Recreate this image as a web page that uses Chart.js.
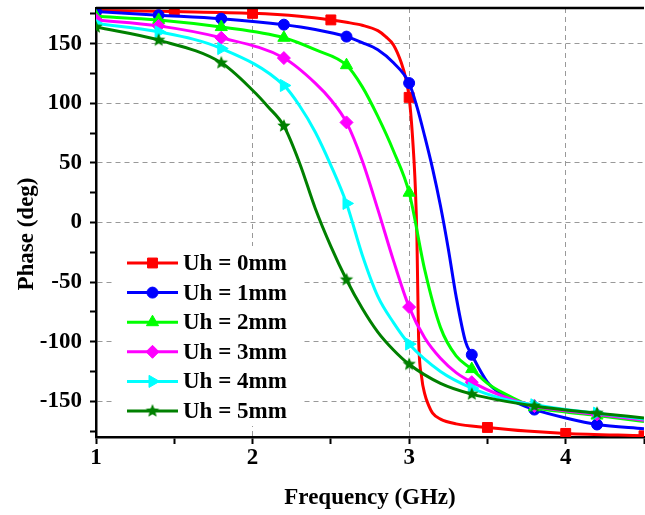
<!DOCTYPE html>
<html>
<head>
<meta charset="utf-8">
<script src="https://cdn.jsdelivr.net/npm/chart.js@4/dist/chart.umd.min.js"></script>
<style>
    html, body { margin: 0; padding: 0; background: #fff; overflow: hidden; }
</style>
</head>
<body>
<canvas id="phaseChart" width="652" height="515"></canvas>
<script>
// frequency (GHz) and phase (deg) per curve
const labels = ['Uh = 0mm', 'Uh = 1mm', 'Uh = 2mm', 'Uh = 3mm', 'Uh = 4mm', 'Uh = 5mm'];

const freq0 = [1.0, 1.5, 2.0, 2.3, 2.5, 2.6, 2.7, 2.8, 2.85, 2.9, 2.95, 2.98, 3.0, 3.02, 3.04, 3.05, 3.06, 3.08, 3.1, 3.12, 3.15, 3.2, 3.3, 3.5, 3.75, 4.0, 4.5];
const phase0 = [178, 177, 175.5, 173, 170, 168, 165.5, 161, 156, 149, 134, 120, 105, 75, 28, -15, -95, -130, -144, -152, -160, -165, -169, -172, -175, -177, -179];

const freq1 = [1.0, 1.4, 1.8, 2.2, 2.4, 2.6, 2.7, 2.8, 2.9, 3.0, 3.05, 3.1, 3.15, 3.2, 3.25, 3.3, 3.36, 3.4, 3.5, 3.6, 3.7, 3.8, 4.0, 4.2, 4.5];
const phase1 = [177, 174, 171, 166, 162, 156, 151, 145, 134, 117, 97, 72, 45, 14, -22, -62, -100, -111, -134, -145, -152, -157, -164, -169.5, -173];

const freq2 = [1.0, 1.4, 1.8, 2.2, 2.4, 2.6, 2.7, 2.8, 2.9, 3.0, 3.1, 3.2, 3.3, 3.4, 3.5, 3.6, 3.8, 4.0, 4.2, 4.5];
const phase2 = [173, 170, 164, 155, 145, 132, 114, 89, 60, 25, -40, -88, -112, -123, -135, -143, -155, -159, -162, -167];

const freq3 = [1.0, 1.4, 1.8, 2.2, 2.4, 2.5, 2.6, 2.7, 2.8, 2.9, 3.0, 3.1, 3.2, 3.3, 3.4, 3.6, 3.8, 4.0, 4.2, 4.5];
const phase3 = [170, 165, 155, 138, 117, 103, 84, 52, 11, -32, -71, -97, -114, -126, -134, -146, -154, -158, -161, -166];

const freq4 = [1.0, 1.4, 1.8, 2.2, 2.3, 2.4, 2.5, 2.6, 2.7, 2.8, 2.9, 3.0, 3.2, 3.4, 3.6, 3.8, 4.0, 4.2, 4.5];
const phase4 = [167, 160, 146, 115, 98, 76, 48, 16, -27, -62, -84, -102, -125, -139, -148, -153, -157, -160, -165];

const freq5 = [1.0, 1.4, 1.8, 2.0, 2.1, 2.2, 2.3, 2.4, 2.5, 2.6, 2.7, 2.8, 2.9, 3.0, 3.2, 3.4, 3.8, 4.2, 4.5];
const phase5 = [164, 153, 134, 111, 97, 81, 50, 12, -20, -48, -72, -92, -107, -119, -135, -144, -154, -160, -164];

// frequencies where a symbol is drawn
const markers0 = [1.0, 1.5, 2.0, 2.5, 3.0, 3.5, 4.0, 4.5];
const markersN = [1.0, 1.4, 1.8, 2.2, 2.6, 3.0, 3.4, 3.8, 4.2];

const xTicks = [1, 1.5, 2, 2.5, 3, 3.5, 4, 4.5];
const yTicks = [-175, -150, -125, -100, -75, -50, -25, 0, 25, 50, 75, 100, 125, 150, 175];

const colors = ['#ff0000', '#0000ff', '#00ff00', '#ff00ff', '#00ffff', '#008000'];
const font = 'Liberation Serif';

function starImage(color, r) {
    const c = document.createElement('canvas');
    const s = Math.ceil(r * 2) + 2;
    c.width = c.height = s;
    const g = c.getContext('2d');
    g.fillStyle = color;
    g.beginPath();
    for (let i = 0; i < 10; i++) {
        const a = -Math.PI / 2 + i * Math.PI / 5;
        const rr = i % 2 ? r * 0.45 : r;
        g.lineTo(s / 2 + rr * Math.cos(a), s / 2 + rr * Math.sin(a));
    }
    g.closePath();
    g.fill();
    return c;
}

const symbols = [
    { style: 'rect', rotation: 0, radius: 7 },
    { style: 'circle', rotation: 0, radius: 5.5 },
    { style: 'triangle', rotation: 0, radius: 7 },
    { style: 'rectRot', rotation: 0, radius: 6.5 },
    { style: 'triangle', rotation: 90, radius: 7 },
    { style: starImage(colors[5], 7), rotation: 0, radius: 7 }
];

const series = [
    [freq0, phase0, markers0],
    [freq1, phase1, markersN],
    [freq2, phase2, markersN],
    [freq3, phase3, markersN],
    [freq4, phase4, markersN],
    [freq5, phase5, markersN]
];

const datasets = series.map((s, i) => {
    const marks = s[2];
    return {
        label: labels[i],
        data: s[0].map((f, k) => ({ x: f, y: s[1][k] })),
        borderColor: colors[i],
        backgroundColor: colors[i],
        borderWidth: 3,
        cubicInterpolationMode: 'monotone',
        pointStyle: symbols[i].style,
        pointRotation: symbols[i].rotation,
        pointRadius: ctx => marks.includes(ctx.raw.x) ? symbols[i].radius : 0,
        pointBorderWidth: 1,
        order: 5 - i
    };
});

// white legend box inside the plot, plus the top frame line
const extras = {
    id: 'extras',
    afterDraw(chart) {
        const ctx = chart.ctx;
        const area = chart.chartArea;
        ctx.save();
        ctx.strokeStyle = '#000';
        ctx.lineWidth = 2.5;
        ctx.beginPath();
        ctx.moveTo(area.left, area.top);
        ctx.lineTo(area.right, area.top);
        ctx.stroke();

        ctx.fillStyle = '#fff';
        ctx.fillRect(area.left + 17, 246, 190, 180);

        ctx.font = 'bold 23px "' + font + '"';
        ctx.textBaseline = 'middle';
        chart.data.datasets.forEach((ds, i) => {
            const y = 263 + i * 29.6;
            const x0 = area.left + 31;
            ctx.strokeStyle = colors[i];
            ctx.lineWidth = 3;
            ctx.beginPath();
            ctx.moveTo(x0, y);
            ctx.lineTo(x0 + 51, y);
            ctx.stroke();
            ctx.fillStyle = colors[i];
            ctx.strokeStyle = colors[i];
            ctx.lineWidth = 1;
            Chart.helpers.drawPoint(ctx, {
                pointStyle: symbols[i].style,
                rotation: symbols[i].rotation,
                radius: symbols[i].radius,
                borderWidth: 1
            }, x0 + 25.5, y);
            ctx.fillStyle = '#000';
            ctx.fillText(ds.label, x0 + 56, y + 1);
        });
        ctx.restore();
    }
};

const ctx = document.getElementById('phaseChart').getContext('2d');
new Chart(ctx, {
    type: 'line',
    data: { datasets: datasets },
    plugins: [extras],
    options: {
        responsive: false,
        animation: false,
        layout: { padding: { top: 8, right: 2, left: 0, bottom: 0 } },
        plugins: {
            legend: { display: false },
            tooltip: { enabled: false }
        },
        scales: {
            x: {
                type: 'linear',
                min: 1,
                max: 4.5,
                afterBuildTicks: s => { s.ticks = xTicks.map(v => ({ value: v })); },
                afterFit: s => { s.height = 78; s.paddingLeft = 0; s.paddingRight = 0; },
                ticks: {
                    autoSkip: false,
                    maxRotation: 0,
                    padding: 0,
                    color: '#000',
                    font: { family: font, weight: 'bold', size: 23 },
                    callback: v => Number.isInteger(v) ? v : ''
                },
                grid: {
                    color: c => (c.tick && Number.isInteger(c.tick.value) && c.tick.value > 1) ? '#999' : 'rgba(0,0,0,0)',
                    lineWidth: 1,
                    tickColor: '#000',
                    tickWidth: 2,
                    tickLength: 7,
                    tickBorderDash: []
                },
                border: { display: true, color: '#000', width: 2.5, dash: [5, 4] },
                title: {
                    display: true,
                    text: 'Frequency (GHz)',
                    color: '#000',
                    font: { family: font, weight: 'bold', size: 23 },
                    padding: { top: 0, bottom: 3 }
                }
            },
            y: {
                type: 'linear',
                min: -180,
                max: 180,
                afterBuildTicks: s => { s.ticks = yTicks.map(v => ({ value: v })); },
                afterFit: s => { s.width = 96; s.paddingTop = 0; s.paddingBottom = 0; },
                ticks: {
                    autoSkip: false,
                    padding: 8,
                    color: '#000',
                    font: { family: font, weight: 'bold', size: 23 },
                    callback: v => v % 50 === 0 ? v : ''
                },
                grid: {
                    color: c => (c.tick && c.tick.value % 50 === 0) ? '#999' : 'rgba(0,0,0,0)',
                    lineWidth: 1,
                    tickColor: '#000',
                    tickWidth: 2,
                    tickLength: 6,
                    tickBorderDash: []
                },
                border: { display: true, color: '#000', width: 2.5, dash: [5, 4] },
                title: {
                    display: true,
                    text: 'Phase (deg)    ',
                    color: '#000',
                    font: { family: font, weight: 'bold', size: 23 },
                    padding: { top: 13, bottom: 0 }
                }
            }
        }
    }
});
</script>
</body>
</html>
